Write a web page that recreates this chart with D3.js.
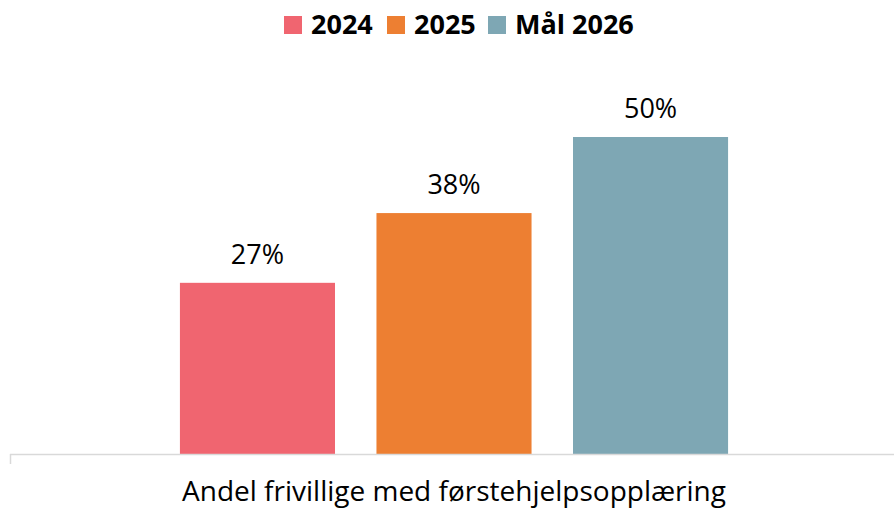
<!DOCTYPE html>
<html>
<head>
<meta charset="utf-8">
<script src="https://cdn.jsdelivr.net/npm/d3@7"></script>
<style>
  body { margin: 0; background: #fff; }
  svg text { font-family: "Open Sans", sans-serif; }
</style>
</head>
<body>
<svg width="894" height="509"></svg>
<script>
(function () {

  const categories = ["Andel frivillige med førstehjelpsopplæring"];
  const seriesNames = ["2024", "2025", "Mål 2026"];
  const seriesValues = [27, 38, 50];
  const seriesColors = ["#f06570", "#ed7f32", "#7ea7b4"];

  const svg = d3.select("svg");
  const width = +svg.attr("width");

  const baseY = 454;

  const x0 = d3.scaleBand()
    .domain(categories)
    .range([10, 898])
    .paddingInner(0)
    .paddingOuter(0.31);

  const x1 = d3.scaleBand()
    .domain(seriesNames)
    .range([0, x0.bandwidth()])
    .paddingInner(0.211)
    .paddingOuter(0);

  const y = d3.scaleLinear()
    .domain([0, 60])
    .range([baseY, baseY - 60 * 6.34]);

  const rows = seriesNames.map((s, i) => ({
    cat: categories[0], name: s, value: seriesValues[i], color: seriesColors[i]
  }));

  // bars
  svg.append("g")
    .selectAll("rect")
    .data(rows)
    .enter().append("rect")
    .attr("x", d => x0(d.cat) + x1(d.name))
    .attr("y", d => y(d.value))
    .attr("width", x1.bandwidth())
    .attr("height", d => y(0) - y(d.value))
    .attr("fill", d => d.color);

  // value labels
  svg.append("g")
    .selectAll("text")
    .data(rows)
    .enter().append("text")
    .attr("x", d => x0(d.cat) + x1(d.name) + x1.bandwidth() / 2)
    .attr("y", d => y(d.value) - 19)
    .attr("text-anchor", "middle")
    .attr("font-size", 27)
    .attr("fill", "#000")
    .text(d => d.value + "%");

  // category axis
  const axis = svg.append("g")
    .attr("transform", `translate(0,${baseY})`)
    .call(d3.axisBottom(x0).tickSize(0).tickFormat(""));
  axis.select(".domain").remove();
  axis.append("line")
    .attr("x1", 10).attr("x2", width)
    .attr("y1", 0.5).attr("y2", 0.5)
    .attr("stroke", "#d9d9d9").attr("stroke-width", 1.5);
  axis.append("line")
    .attr("x1", 10.5).attr("x2", 10.5)
    .attr("y1", 0).attr("y2", 10)
    .attr("stroke", "#d9d9d9").attr("stroke-width", 1.5);
  axis.selectAll(".tick").append("text")
    .attr("y", 47)
    .attr("text-anchor", "middle")
    .attr("font-size", 28)
    .attr("fill", "#000")
    .text(d => d);

  // legend
  const legendItems = [
    { name: seriesNames[0], color: seriesColors[0], x: 284 },
    { name: seriesNames[1], color: seriesColors[1], x: 387 },
    { name: seriesNames[2], color: seriesColors[2], x: 488 }
  ];
  const lg = svg.append("g").selectAll("g")
    .data(legendItems)
    .enter().append("g")
    .attr("transform", d => `translate(${d.x},0)`);
  lg.append("rect")
    .attr("x", 0).attr("y", 16)
    .attr("width", 18).attr("height", 18)
    .attr("fill", d => d.color);
  lg.append("text")
    .attr("x", 27).attr("y", 34)
    .attr("font-size", 27)
    .attr("font-weight", "bold")
    .attr("fill", "#000")
    .text(d => d.name);

}());
</script>
</body>
</html>
